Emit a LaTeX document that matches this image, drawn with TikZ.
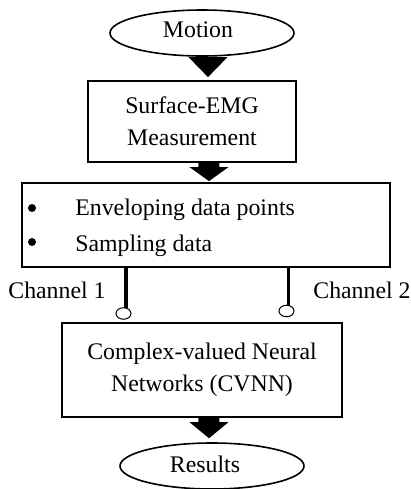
\documentclass[tikz,border=0pt]{standalone}
\usepackage{fontspec}
\setmainfont{Liberation Serif}
\usetikzlibrary{calc,shapes.geometric}
\newcommand{\blockarrow}[3]{%
  \fill let \p1=(#1), \p2=(#2) in
    (\x2-5.25pt,\y1) -- (\x2+5.25pt,\y1) -- (\x2+5.25pt,\y2+#3) -- (\x2+9.75pt,\y2+#3)
    -- (\x2,\y2) -- (\x2-9.75pt,\y2+#3) -- (\x2-5.25pt,\y2+#3) -- cycle;}
\begin{document}
\begin{tikzpicture}[x=0.5pt,y=-0.5pt,
  every node/.style={font=\fontsize{11.9}{16}\selectfont},
  box/.style={draw, line width=0.9pt, rectangle, inner sep=0pt, align=center},
  oval/.style={draw, line width=0.8pt, ellipse, inner sep=0pt, minimum width=92pt, minimum height=23pt},
  lbl/.style={anchor=base, inner sep=0pt},
  lblw/.style={anchor=base west, inner sep=0pt},
  dot/.style={circle, fill, inner sep=0pt, minimum size=4pt},
  port/.style={draw, ellipse, line width=0.5pt, inner sep=0pt, minimum width=7.5pt, minimum height=5.75pt},
  chan/.style={line width=1.75pt}]
\useasboundingbox (0,0) rectangle (411,489);

% shapes
\node[oval] (motion) at (202,33) {};
\node[lbl] (motiont) at (198,37) {Motion};
\node[box, minimum width=104pt, minimum height=40.5pt] (box1) at (192,121.5) {Surface-EMG\\Measurement};
\node[box, minimum width=184pt, minimum height=42pt] (box2) at (206,225) {};
\node[dot] (bu1) at (32,208) {};
\node[dot] (bu2) at (32,242) {};
\node[lblw] (t1) at (75,215) {Enveloping data points};
\node[lblw] (t2) at (75,251) {Sampling data};
\node[lblw] (ch1) at (8,298) {Channel 1};
\node[lblw] (ch2) at (313,298) {Channel 2};
\node[port] (c1) at (123.5,313.5) {};
\node[port] (c2) at (286.5,311) {};
\node[box, minimum width=140pt, minimum height=47pt] (box3) at (202,370) {Complex-valued Neural\\Networks (CVNN)};
\node[oval] (results) at (212,466) {};
\node[lbl] (resultst) at (205,472) {Results};

% block arrows
\coordinate (a1t) at ($(box1.north)+(16,-3)$);
\coordinate (a2t) at ($(box2.north)+(3,-1)$);
\coordinate (a3t) at ($(results.north)+(-3,-4)$);
\blockarrow{a1t |- motion.south}{a1t}{10pt}
\blockarrow{a2t |- box1.south}{a2t}{7pt}
\blockarrow{a3t |- box3.south}{a3t}{8pt}

% channels
\coordinate (l1) at (126,308);
\coordinate (l2) at (288.5,305.5);
\draw[chan] (l1 |- box2.south) -- (l1);
\draw[chan] (l2 |- box2.south) -- (l2);
\end{tikzpicture}
\end{document}
